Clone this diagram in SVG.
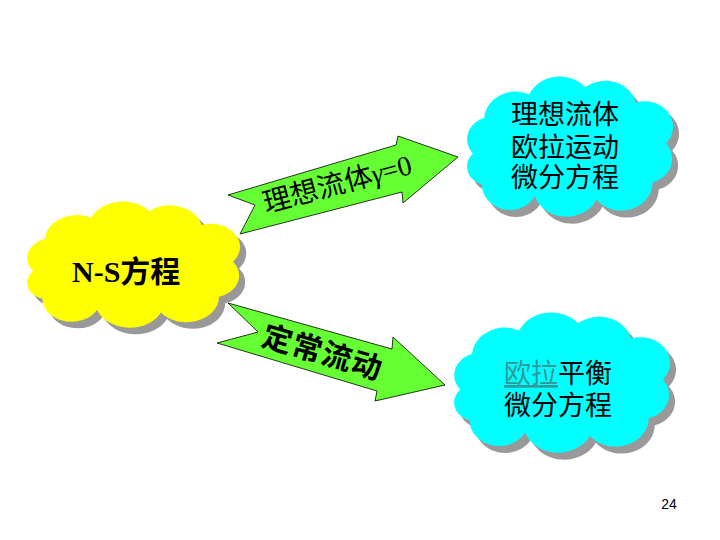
<svg xmlns="http://www.w3.org/2000/svg" xmlns:xlink="http://www.w3.org/1999/xlink" width="720" height="540" viewBox="0 0 720 540">
<defs>
<path id="cloud" d="M 20,80 A 22,22 0 0 1 30,45 A 28,28 0 0 1 70,22 A 30,30 0 0 1 120,15 A 28,28 0 0 1 165,30 A 25,25 0 0 1 192,70 A 24,24 0 0 1 180,108 A 28,28 0 0 1 130,125 A 30,30 0 0 1 75,122 A 25,25 0 0 1 28,110 A 18,18 0 0 1 20,80 Z"/>
<style>
.shadow{fill:#999999}
.yellow{fill:#ffff00}
.cyan{fill:#00ffff}
.arrow{fill:#66ff33;stroke:#000;stroke-width:0.8;stroke-linejoin:miter}
.cjk{font-family:"Liberation Serif","Noto Sans CJK SC",serif;fill:#000}
.ctext{font-family:"Noto Sans CJK SC",sans-serif;font-size:27px;fill:#000;text-anchor:middle}
</style>
</defs>
<rect width="720" height="540" fill="#ffffff"/>
<g id="connectors">
<g id="arrow-top">
<polygon class="arrow" points="228,195 396,145 398,136 458,157 403,203 402,192 240,234 255,205"/>
<text class="cjk" font-size="28" transform="translate(266,213) rotate(-15)">理想流体<tspan font-style="italic">γ</tspan>=0</text>
</g>
<g id="arrow-bottom">
<polygon class="arrow" points="228,303 392,349 393,337 445,385 375,401 377,391 217,343 258,332"/>
<text font-family="Noto Sans CJK SC, sans-serif" font-weight="bold" font-size="30" letter-spacing="1" transform="translate(260,345) rotate(16.5)">定常流动</text>
</g>
</g>
<g id="node-ns">
<use xlink:href="#cloud" class="shadow" transform="translate(16,204) scale(1.162,0.92)"/>
<use xlink:href="#cloud" class="yellow" transform="translate(9.9,197.4) scale(1.162,0.92)"/>
<text class="cjk" font-size="30" font-weight="bold" x="72" y="282">N-S方程</text>
</g>
<g id="node-euler-motion">
<use xlink:href="#cloud" class="shadow" transform="translate(456.4,78.9) scale(1.124,1.022)"/>
<use xlink:href="#cloud" class="cyan" transform="translate(450.4,71.9) scale(1.124,1.022)"/>
<text class="ctext" x="565" y="124">理想流体</text>
<text class="ctext" x="565" y="157">欧拉运动</text>
<text class="ctext" x="565" y="187">微分方程</text>
</g>
<g id="node-euler-balance">
<use xlink:href="#cloud" class="shadow" transform="translate(442.7,314.9) scale(1.178,1.022)"/>
<use xlink:href="#cloud" class="cyan" transform="translate(436.7,307.9) scale(1.178,1.022)"/>
<text class="ctext" x="558" y="383"><tspan fill="#339999" text-decoration="underline">欧拉</tspan>平衡</text>
<text class="ctext" x="558" y="415">微分方程</text>
</g>
<text x="669" y="509" font-family="Liberation Sans, Arial, sans-serif" font-size="14" text-anchor="middle" fill="#000">24</text>
</svg>
